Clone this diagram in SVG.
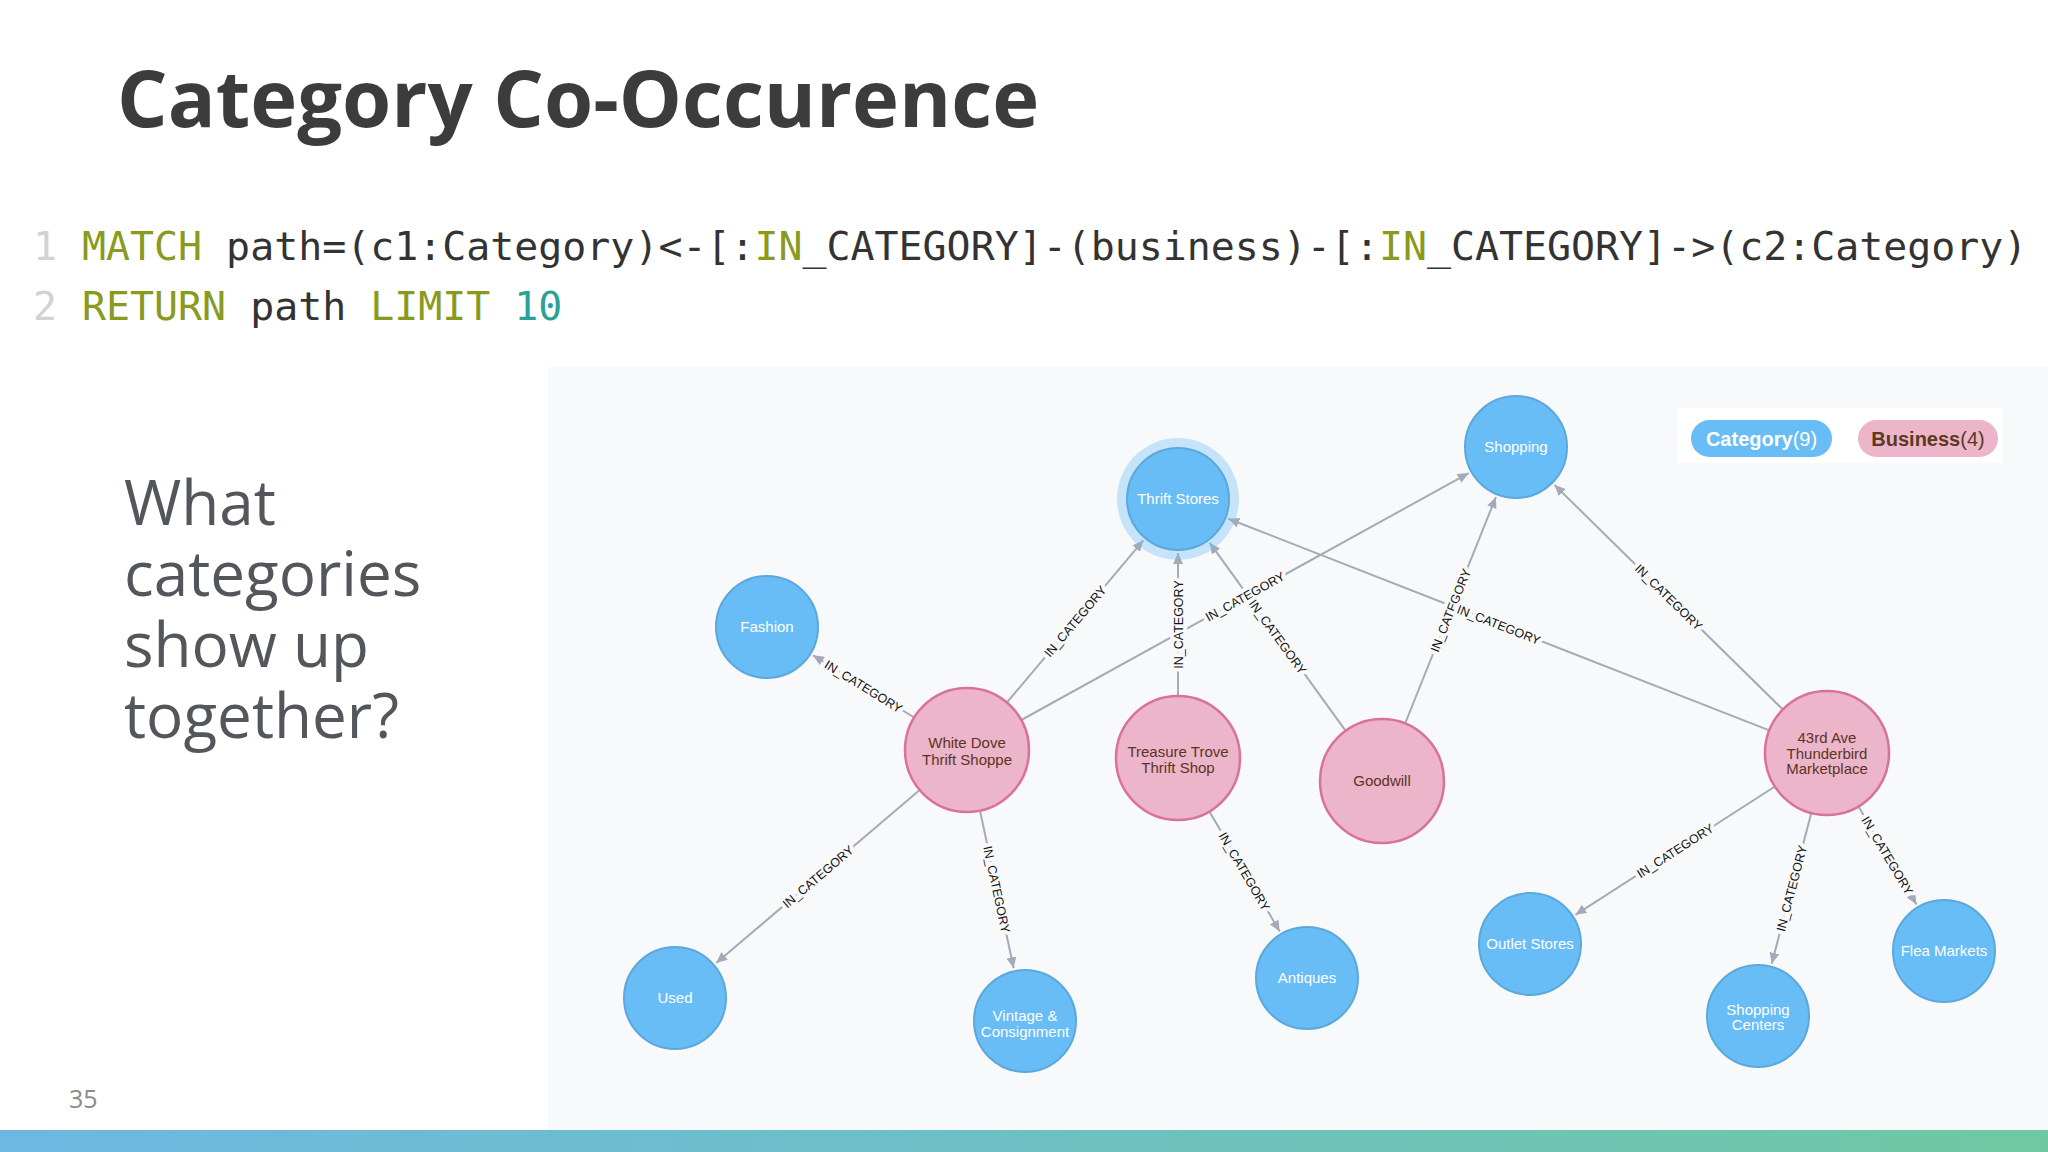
<svg xmlns="http://www.w3.org/2000/svg" width="2048" height="1152" viewBox="0 0 2048 1152">
<defs>
<linearGradient id="bar" x1="0" y1="0" x2="1" y2="0">
<stop offset="0" stop-color="#6cb8e2"/>
<stop offset="1" stop-color="#6ec9a3"/>
</linearGradient>
<marker id="arr" markerUnits="userSpaceOnUse" markerWidth="12" markerHeight="10" refX="11" refY="5" orient="auto">
<path d="M0,0 L11,5 L0,10 z" fill="#a5abb6"/>
</marker>
<style>
.cat{fill:#68bdf6;stroke:#5ca8db;stroke-width:2}
.bus{fill:#ecb5c9;stroke:#da7298;stroke-width:2.5}
.ct{font-family:"Liberation Sans",Arial,sans-serif;font-size:15px;fill:#ffffff;text-anchor:middle}
.bt{font-family:"Liberation Sans",Arial,sans-serif;font-size:15px;fill:#5b3423;text-anchor:middle}
.e{stroke:#a5abb6;stroke-width:2;fill:none;marker-end:url(#arr)}
.el{font-family:"Liberation Sans",Arial,sans-serif;font-size:12.5px;fill:#111;text-anchor:middle;stroke:#f8f9fb;stroke-width:8;stroke-linejoin:round;paint-order:stroke}
.code{font-family:"DejaVu Sans Mono","Liberation Mono",monospace;font-size:39.9px;fill:#333}
.kw{fill:#899a20}
.num{fill:#2da096}
.ln{fill:#d2d2d2}
</style>
</defs>
<rect x="0" y="0" width="2048" height="1152" fill="#ffffff"/>
<text x="117" y="127" font-family="'Open Sans',sans-serif" font-weight="bold" font-size="79.5" fill="#3c3c3c">Category Co-Occurence</text>
<text class="code" y="260"><tspan class="ln" x="33">1</tspan><tspan class="kw" x="82">MATCH</tspan> path=(c1:Category)&lt;-[:<tspan class="kw">IN</tspan>_CATEGORY]-(business)-[:<tspan class="kw">IN</tspan>_CATEGORY]-&gt;(c2:Category)</text>
<text class="code" y="320"><tspan class="ln" x="33">2</tspan><tspan class="kw" x="82">RETURN</tspan> path <tspan class="kw">LIMIT</tspan> <tspan class="num">10</tspan></text>
<g font-family="'Open Sans',sans-serif" font-size="62" fill="#53575c">
<text x="124" y="525">What</text>
<text x="124" y="596">categories</text>
<text x="124" y="667">show up</text>
<text x="124" y="738">together?</text>
</g>
<text x="69" y="1108" font-family="'Open Sans',sans-serif" font-size="25" fill="#8a8a8a">35</text>
<rect x="0" y="1130" width="2048" height="22" fill="url(#bar)"/>
<rect x="548" y="367" width="1500" height="763" fill="#f8f9fb"/>
<g id="legend">
<rect x="1678" y="408" width="324" height="55" fill="#ffffff"/>
<rect x="1691" y="420" width="141" height="37" rx="18.5" fill="#68bdf6"/>
<text x="1761.5" y="446" text-anchor="middle" font-family="'Liberation Sans',Arial,sans-serif" font-size="20" fill="#ffffff"><tspan font-weight="bold">Category</tspan>(9)</text>
<rect x="1858" y="420" width="140" height="37" rx="18.5" fill="#ecb5c9"/>
<text x="1928" y="446" text-anchor="middle" font-family="'Liberation Sans',Arial,sans-serif" font-size="20" fill="#5b3a1e"><tspan font-weight="bold">Business</tspan>(4)</text>
</g>
<g id="connectors">
<line class="e" x1="1006.9" y1="702.5" x2="1143.3" y2="540.3"/>
<line class="e" x1="1021.3" y1="720" x2="1468.7" y2="473.1"/>
<line class="e" x1="914.2" y1="717.5" x2="813" y2="655.3"/>
<line class="e" x1="919.7" y1="790.1" x2="716.2" y2="963"/>
<line class="e" x1="980" y1="810.6" x2="1013.7" y2="968.2"/>
<line class="e" x1="1178" y1="696" x2="1178" y2="553"/>
<line class="e" x1="1209.4" y1="811.5" x2="1279.7" y2="931.4"/>
<line class="e" x1="1345.7" y1="730.8" x2="1209.6" y2="542.7"/>
<line class="e" x1="1405.1" y1="723.5" x2="1495.9" y2="497.1"/>
<line class="e" x1="1769.3" y1="730.4" x2="1228.3" y2="518.7"/>
<line class="e" x1="1782.8" y1="709.5" x2="1554.5" y2="484.9"/>
<line class="e" x1="1774.9" y1="786.5" x2="1575.4" y2="914.8"/>
<line class="e" x1="1811.3" y1="813" x2="1771.7" y2="963.8"/>
<line class="e" x1="1858.5" y1="806.4" x2="1916.5" y2="904.5"/>
<text class="el" transform="translate(1075.1,621.4) rotate(-49.9)" dy="4.5">IN_CATEGORY</text>
<text class="el" transform="translate(1245,596.5) rotate(-28.9)" dy="4.5">IN_CATEGORY</text>
<text class="el" transform="translate(863.6,686.4) rotate(31.6)" dy="4.5">IN_CATEGORY</text>
<text class="el" transform="translate(818,876.6) rotate(-40.3)" dy="4.5">IN_CATEGORY</text>
<text class="el" transform="translate(996.8,889.4) rotate(77.9)" dy="4.5">IN_CATEGORY</text>
<text class="el" transform="translate(1178,624.5) rotate(-90)" dy="4.5">IN_CATEGORY</text>
<text class="el" transform="translate(1244.5,871.4) rotate(59.6)" dy="4.5">IN_CATEGORY</text>
<text class="el" transform="translate(1277.7,636.8) rotate(54.1)" dy="4.5">IN_CATEGORY</text>
<text class="el" transform="translate(1450.5,610.3) rotate(-68.1)" dy="4.5">IN_CATEGORY</text>
<text class="el" transform="translate(1498.8,624.6) rotate(21.4)" dy="4.5">IN_CATEGORY</text>
<text class="el" transform="translate(1668.7,597.2) rotate(44.5)" dy="4.5">IN_CATEGORY</text>
<text class="el" transform="translate(1675.2,850.7) rotate(-32.7)" dy="4.5">IN_CATEGORY</text>
<text class="el" transform="translate(1791.5,888.4) rotate(-75.3)" dy="4.5">IN_CATEGORY</text>
<text class="el" transform="translate(1887.5,855.5) rotate(59.4)" dy="4.5">IN_CATEGORY</text>
</g>
<g id="thrift-stores">
<circle cx="1178" cy="499" r="61" fill="#68bdf6" fill-opacity="0.35"/>
<circle class="cat" cx="1178" cy="499" r="51"/>
<text class="ct" x="1178" y="504">Thrift Stores</text>
</g>
<g id="shopping">
<circle class="cat" cx="1516" cy="447" r="51"/>
<text class="ct" x="1516" y="452">Shopping</text>
</g>
<g id="fashion">
<circle class="cat" cx="767" cy="627" r="51"/>
<text class="ct" x="767" y="632">Fashion</text>
</g>
<g id="white-dove">
<circle class="bus" cx="967" cy="750" r="62"/>
<text class="bt" x="967" y="748">White Dove</text>
<text class="bt" x="967" y="765">Thrift Shoppe</text>
</g>
<g id="treasure-trove">
<circle class="bus" cx="1178" cy="758" r="62"/>
<text class="bt" x="1178" y="757">Treasure Trove</text>
<text class="bt" x="1178" y="773">Thrift Shop</text>
</g>
<g id="goodwill">
<circle class="bus" cx="1382" cy="781" r="62"/>
<text class="bt" x="1382" y="786">Goodwill</text>
</g>
<g id="thunderbird">
<circle class="bus" cx="1827" cy="753" r="62"/>
<text class="bt" x="1827" y="743">43rd Ave</text>
<text class="bt" x="1827" y="759">Thunderbird</text>
<text class="bt" x="1827" y="774">Marketplace</text>
</g>
<g id="used">
<circle class="cat" cx="675" cy="998" r="51"/>
<text class="ct" x="675" y="1003">Used</text>
</g>
<g id="vintage">
<circle class="cat" cx="1025" cy="1021" r="51"/>
<text class="ct" x="1025" y="1021">Vintage &amp;</text>
<text class="ct" x="1025" y="1037">Consignment</text>
</g>
<g id="antiques">
<circle class="cat" cx="1307" cy="978" r="51"/>
<text class="ct" x="1307" y="983">Antiques</text>
</g>
<g id="outlet-stores">
<circle class="cat" cx="1530" cy="944" r="51"/>
<text class="ct" x="1530" y="949">Outlet Stores</text>
</g>
<g id="shopping-centers">
<circle class="cat" cx="1758" cy="1016" r="51"/>
<text class="ct" x="1758" y="1015">Shopping</text>
<text class="ct" x="1758" y="1030">Centers</text>
</g>
<g id="flea-markets">
<circle class="cat" cx="1944" cy="951" r="51"/>
<text class="ct" x="1944" y="956">Flea Markets</text>
</g>
</svg>
